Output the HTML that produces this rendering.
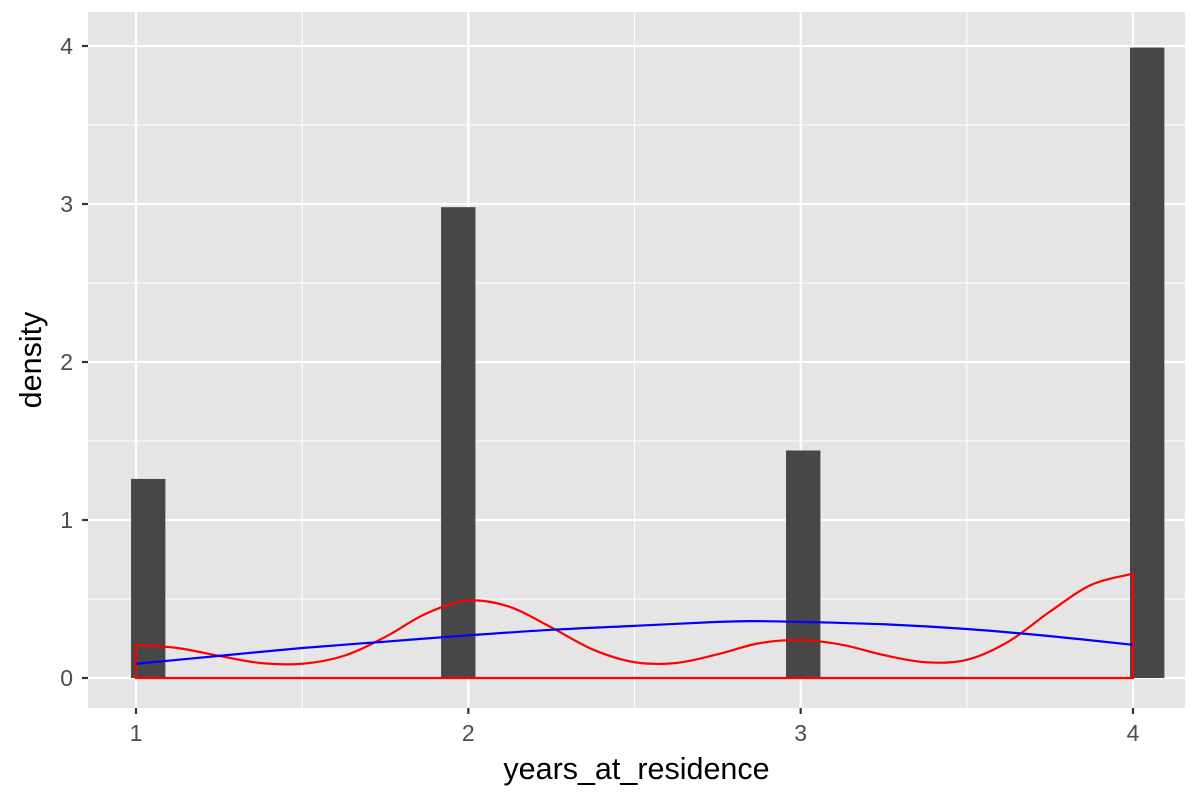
<!DOCTYPE html>
<html><head><meta charset="utf-8"><style>
body{margin:0;background:#fff}
svg{display:block;font-family:"Liberation Sans",sans-serif}
</style></head><body>
<svg id="chart" width="1200" height="800"></svg>
<script>
const barLefts=[0.985,1.918,2.956,3.991];
const barHeights=[1.26,2.98,1.44,3.99];
const binWidth=0.1034;
const redX=[1,1.125,1.25,1.375,1.5,1.625,1.75,1.875,2,2.125,2.25,2.375,2.5,2.625,2.75,2.875,3,3.125,3.25,3.375,3.5,3.625,3.75,3.875,4];
const redY=[0.21,0.19,0.14,0.095,0.09,0.14,0.26,0.41,0.49,0.45,0.32,0.18,0.10,0.095,0.15,0.22,0.24,0.21,0.145,0.10,0.115,0.23,0.42,0.59,0.66];
const blueX=[1,1.25,1.5,1.75,2,2.25,2.5,2.75,2.85,3,3.25,3.5,3.75,4];
const blueY=[0.09,0.14,0.19,0.23,0.27,0.305,0.33,0.355,0.36,0.355,0.34,0.31,0.265,0.21];
const xTicks=[1,2,3,4];
const yTicks=[0,1,2,3,4];
const L=88,R=1185,T=12,B=708;
const sx=v=>136+(v-1)*332.33;
const sy=v=>678-v*158;
const NS="http://www.w3.org/2000/svg";
const svg=document.getElementById('chart');
function mk(t,a,p){const e=document.createElementNS(NS,t);for(const k in a)e.setAttribute(k,a[k]);(p||svg).appendChild(e);return e;}
const bg=mk('rect',{x:L,y:T,width:R-L,height:B-T,fill:'#E5E5E5'});


[1.5,2.5,3.5].forEach(v=>{mk('line',{x1:sx(v),x2:sx(v),y1:T,y2:B,stroke:'#fff','stroke-width':1.1});});
[0.5,1.5,2.5,3.5].forEach(v=>{mk('line',{x1:L,x2:R,y1:sy(v),y2:sy(v),stroke:'#fff','stroke-width':1.1});});
xTicks.forEach(v=>{mk('line',{x1:sx(v),x2:sx(v),y1:T,y2:B,stroke:'#fff','stroke-width':2.2});
 mk('line',{x1:sx(v),x2:sx(v),y1:B,y2:B+6,stroke:'#333','stroke-width':2.2});
 const t=mk('text',{x:sx(v),y:741,'text-anchor':'middle','font-size':23,fill:'#4D4D4D'});t.textContent=v;
 
 });
yTicks.forEach(v=>{mk('line',{x1:L,x2:R,y1:sy(v),y2:sy(v),stroke:'#fff','stroke-width':2.2});
 mk('line',{x1:L-6,x2:L,y1:sy(v),y2:sy(v),stroke:'#333','stroke-width':2.2});
 const t=mk('text',{x:L-15,y:sy(v)+8,'text-anchor':'end','font-size':23,fill:'#4D4D4D'});t.textContent=v;
 
 });
barLefts.forEach((x,i)=>{const r=mk('rect',{x:sx(x),y:sy(barHeights[i]),width:binWidth*332.33,height:sy(0)-sy(barHeights[i]),fill:'#474747'});
 
 });
function smooth(xs,ys){let d='';const p=xs.map((x,i)=>[sx(x),sy(ys[i])]);
 d='M'+p[0][0]+','+p[0][1];
 for(let i=0;i<p.length-1;i++){const p0=p[Math.max(i-1,0)],p1=p[i],p2=p[i+1],p3=p[Math.min(i+2,p.length-1)];
  d+=` C${p1[0]+(p2[0]-p0[0])/6},${p1[1]+(p2[1]-p0[1])/6} ${p2[0]-(p3[0]-p1[0])/6},${p2[1]-(p3[1]-p1[1])/6} ${p2[0]},${p2[1]}`;}
 return d;}
const red=mk('path',{d:'M'+sx(redX[0])+','+sy(0)+' L'+smooth(redX,redY).slice(1)+' L'+sx(redX[redX.length-1])+','+sy(0)+' Z',fill:'none',stroke:'#FF0000','stroke-width':2.2});


const blue=mk('path',{d:smooth(blueX,blueY),fill:'none',stroke:'#0000FF','stroke-width':2.2});


const xt=mk('text',{x:(L+R)/2,y:779,'text-anchor':'middle','font-size':30.5,fill:'#000'});xt.textContent='years_at_residence';


const yt=mk('text',{x:0,y:0,transform:`translate(41,${(T+B)/2}) rotate(-90)`,'text-anchor':'middle','font-size':30.5,fill:'#000'});yt.textContent='density';


</script>
</body></html>
